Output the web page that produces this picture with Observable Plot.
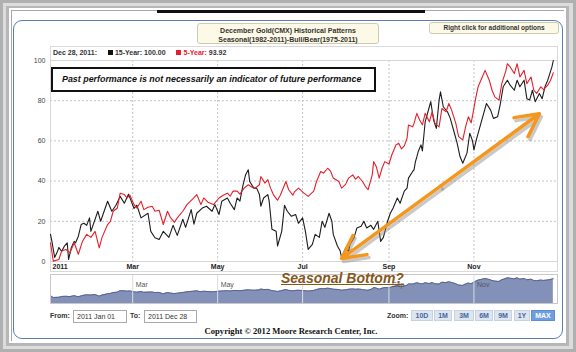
<!DOCTYPE html>
<html><head><meta charset="utf-8">
<script src="https://cdn.jsdelivr.net/npm/d3@7"></script>
<script src="https://cdn.jsdelivr.net/npm/@observablehq/plot@0.6"></script>
<style>
html,body{margin:0;padding:0;}
body{width:576px;height:352px;overflow:hidden;position:relative;background:#b0b0b0;font-family:"Liberation Sans",Arial,sans-serif;}
.a{position:absolute;box-sizing:border-box;}
#f1{left:3px;top:3px;right:3px;bottom:3px;background:#dcdcdc;}
#f2{left:6px;top:6px;right:7px;bottom:6px;background:#b6b6b6;}
#f3{left:9px;top:8px;right:10px;bottom:9px;background:#fff;}
#f4{left:11px;top:10px;right:12px;bottom:11px;border-left:1px solid #a8a8a8;border-top:1px solid #a8a8a8;}
#bar{left:157px;top:10px;width:268px;height:3px;background:#111;}
#panel{left:13px;top:20px;width:550px;height:319px;border:1px solid #5a7db6;border-radius:9px;background:#fff;}
.yb{background:#fcfae6;border:1px solid #cfcbb0;border-radius:3px;color:#333;font-weight:bold;text-align:center;}
#title{left:197px;top:23px;width:182px;height:21px;font-size:7px;line-height:9px;padding-top:1.5px;}
#rc{left:429px;top:22px;width:130px;height:12px;font-size:6.5px;line-height:10px;}
#cframe{left:50px;top:46px;width:508px;height:226px;border:1px solid #dadada;}
#hdr{left:53px;top:46px;height:13px;line-height:13px;font-size:7px;font-weight:bold;color:#333;white-space:nowrap;}
.sq{display:inline-block;width:5px;height:5px;margin:0 2px 0 9px;vertical-align:0px;}
#past{left:51px;top:67px;width:325px;height:25px;border:2.6px solid #111;background:#fff;font-weight:bold;font-style:italic;font-size:8.9px;line-height:20px;padding-left:9px;color:#111;white-space:nowrap;}
#seas{left:281px;top:271px;font-weight:bold;font-style:italic;font-size:14px;line-height:15px;color:#86561a;text-decoration:underline;white-space:nowrap;z-index:5;}
.lbl{font-size:7px;font-weight:bold;color:#333;line-height:12px;}
.inp{height:13px;border:1px solid #a9a9a9;font-size:7px;line-height:11px;padding-left:3px;color:#333;background:#fff;}
.btn{top:310px;height:11px;background:#dde5ef;border:1px solid #c7d2e2;font-size:7px;font-weight:bold;color:#4767a0;text-align:center;line-height:9px;}
#copy{left:150px;width:282px;top:326px;text-align:center;font-family:"Liberation Serif","Times New Roman",serif;font-weight:bold;font-size:8.6px;color:#111;}
</style></head>
<body>
<div class="a" id="f1"></div><div class="a" id="f2"></div><div class="a" id="f3"></div><div class="a" id="f4"></div>
<div class="a" id="bar"></div>
<div class="a" id="panel"></div>
<div class="a yb" id="title">December Gold(CMX) Historical Patterns<br>Seasonal(1982-2011)-Bull/Bear(1975-2011)</div>
<div class="a yb" id="rc">Right click for additional options</div>
<div class="a" id="cframe"></div>
<div class="a" id="hdr">Dec 28, 2011: <span class="sq" style="background:#111"></span>15-Year: 100.00 <span class="sq" style="background:#e3202b"></span><span style="color:#e3202b">5-Year:</span> 93.92</div>
<div id="svgs"></div>
<div class="a" id="past">Past performance is not necessarily an indicator of future performance</div>
<div class="a" id="seas">Seasonal Bottom?</div>
<div class="a lbl" style="left:50px;top:310px;">From:</div>
<div class="a inp" style="left:73px;top:310px;width:54px;">2011 Jan 01</div>
<div class="a lbl" style="left:130px;top:310px;">To:</div>
<div class="a inp" style="left:144px;top:310px;width:53px;">2011 Dec 28</div>
<div class="a lbl" style="left:387px;top:310px;">Zoom:</div>
<div id="btns"></div>
<div class="a" id="copy">Copyright © 2012 Moore Research Center, Inc.</div>
<script>
// ---- data ----
const days15 = [0,1,3,5,6,8,10,12,13,15,17,18,20,22,24,26,28,29,34,36,41,44,47,50,53,56,60,62,65,70,72,75,78,81,85,88,91,95,97,101,103,105,109,112,116,118,121,123,127,129,132,134,136,138,140,142,143,146,148,150,151,153,156,157,159,162,163,166,168,170,173,176,178,181,183,185,188,190,193,195,197,200,202,203,206,208,209,212,214,215,218,220,223,225,227,230,232,235,237,239,242,244,246,249,251,254,256,257,260,261,262,263,264,266,267,269,272,273,275,277,279,280,282,285,287,290,292,294,296,299,301,303,304,306,309,311,313,316,318,321,323,325,328,330,333,335,337,340,342,344,346,348,351,353,355,357,360,361];
const vals15 = [13.5,10,2,5,7,5,7.7,9.3,1,7,10,9.3,12.6,18.4,19,18,21.7,15,25,20,30,25,28,32.4,29,33.5,26.4,28,21.7,24,15,11.8,11,15,12,18,13,21,17,25.8,18.6,24,26.6,27.5,25,28.3,23.4,30,31.6,29,25.8,31.6,30,37.4,43,45.6,39.8,36.5,36.5,33.3,27.5,31.6,33.3,30,16,15,7.7,15,28,25,22.5,23.4,19,21.7,15,6,8.5,13.5,12,20,17,24,20,13.5,7.7,5.2,1.9,6.8,5,8.5,12,16.7,17.5,20,16.7,18,16,20,10,12,20,24,26.6,31.6,29,35,36.5,41.5,44.8,45.6,49.7,52,54.7,58,55,69.5,77,79.5,70.4,66.2,80.3,84.4,77,74.5,71.2,63.8,58.8,52.2,48.9,53.9,63.8,60,55.5,61.3,68.7,73.7,78.6,75.3,71.2,72,78.6,86.9,90.2,87.7,85.2,90.2,86.9,90.2,81,80.3,85.2,79.5,83.6,81,86.9,90.2,96.8,100];
const days5 = [0,2,6,8,11,14,17,20,23,26,29,32,35,37,41,43,45,48,50,53,55,57,60,62,65,67,70,73,75,78,81,84,86,89,91,95,98,102,105,108,110,113,117,121,124,127,129,131,134,136,139,142,145,147,150,151,154,156,158,160,163,165,169,171,174,175,178,182,185,189,191,194,196,199,201,203,207,209,212,214,217,219,221,224,226,228,231,232,234,236,238,240,243,245,248,250,252,254,256,257,260,261,263,265,267,269,272,274,276,279,281,284,286,288,291,293,296,298,300,302,303,305,307,310,312,315,317,319,322,324,327,328,330,333,335,337,340,342,345,347,349,352,354,357,359,361];
const vals5 = [9.3,0.2,1,5.2,6,4.4,9.3,3.6,10.1,13.5,12,15,6.8,12,18.4,20,25,26.6,34,33.3,31.6,33,28.3,26.6,30,25.8,27,27.5,25,25.5,18.4,25,22,19.5,21.7,25,28.3,31,33.3,28.3,31.6,29.5,28.3,31.6,33,34,32.5,35,35,33.5,36.5,38.2,36.8,36.5,38.2,42.3,39,40.7,36.5,33.3,30.5,33,39.8,35.7,33,34.5,36.5,34,32.4,35,39.8,44.8,44,46.4,45,41.5,39.8,36.5,38.5,41.5,43.1,41,42.3,39.8,37.4,35.7,43.1,49.7,47,41.5,46.4,49.7,48.5,53,58,58.8,56,57.5,61.3,67.9,67,68.7,73.7,70.4,68,73.7,69.5,74.5,68.7,67,76.1,74.5,78.6,75.3,68.7,62.1,60.5,67,72,69,72.5,80.3,86.9,91.8,95.1,90.2,85.2,81.9,80.3,88.5,95.1,98.4,96.8,93.5,98.4,91.8,95.1,88.5,91.8,85.2,83.6,86.9,85.5,87.7,90.2,93.92];
const tickDates = ["2011-01-01","2011-03-01","2011-05-01","2011-07-01","2011-09-01","2011-11-01"];
const tickLabels = ["2011","Mar","May","Jul","Sep","Nov"];
const navLabels = ["Mar","May","Sep","Nov"];
const yTicks = [0,20,40,60,80,100];
const arrowEnds = [{date:"2011-07-29", value:1.5},{date:"2011-12-18", value:73.5}];
const zoomButtons = ["10D","1M","3M","6M","9M","1Y","MAX"];

// ---- build ----
const parse = d3.timeParse("%Y-%m-%d");
const start = new Date(2011,0,1), end = new Date(2011,11,31);
const byDay = d => new Date(2011,0,1+d);
const s15 = d3.zip(days15, vals15).map(([d,v]) => ({date:byDay(d), value:v}));
const s5 = d3.zip(days5, vals5).map(([d,v]) => ({date:byDay(d), value:v}));
const ticks = tickDates.map(parse);
const labelOf = new Map(ticks.map((t,i)=>[+t, tickLabels[i]]));
const monthTicks = ticks.slice(1);
const navTicks = monthTicks.filter(t => navLabels.includes(labelOf.get(+t)));
const A = {date:parse(arrowEnds[0].date), value:arrowEnds[0].value};
const B = {date:parse(arrowEnds[1].date), value:arrowEnds[1].value};
const M = {date:new Date((+A.date + +B.date)/2), value:(A.value+B.value)/2};
const arrows = [A,B].map(p => ({x1:M.date, y1:M.value, x2:p.date, y2:p.value}));
const font = "Liberation Sans, Arial, sans-serif";

const main = Plot.plot({
  width:576, height:280,
  marginLeft:50, marginRight:19, marginTop:60, marginBottom:19,
  style:{background:"transparent", fontFamily:font, overflow:"visible"},
  x:{type:"time", domain:[start,end]},
  y:{domain:[0,100]},
  marks:[
    Plot.gridY(yTicks.filter(v=>v>0 && v<100), {stroke:"#c4c4c4", strokeOpacity:1, strokeDasharray:"2,2"}),
    Plot.gridX(monthTicks, {stroke:"#c4c4c4", strokeOpacity:1, strokeDasharray:"2,2"}),
    Plot.frame({stroke:"#d6d6d6"}),
    Plot.axisY(yTicks, {tickSize:0, tickPadding:5, label:null, fontSize:7, fill:"#444"}),
    Plot.axisX(monthTicks, {tickSize:0, tickPadding:3, label:null, fontSize:7, fontWeight:"bold", fill:"#222", tickFormat:d=>labelOf.get(+d)}),
    Plot.axisX([ticks[0]], {tickSize:0, tickPadding:3, label:null, fontSize:7, fontWeight:"bold", fill:"#222", textAnchor:"start", dx:2, tickFormat:d=>labelOf.get(+d)}),
    Plot.line(s15, {x:"date", y:"value", stroke:"#1d1d1d", strokeWidth:1.1}),
    Plot.line(s5, {x:"date", y:"value", stroke:"#e3202b", strokeWidth:1.1}),
    Plot.arrow(arrows, {x1:"x1", y1:"y1", x2:"x2", y2:"y2", stroke:"#888", strokeOpacity:0.45, strokeWidth:3.5, headLength:11, headAngle:55, bend:0, dx:2, dy:3}),
    Plot.arrow(arrows, {x1:"x1", y1:"y1", x2:"x2", y2:"y2", stroke:"#f5961d", strokeWidth:3.5, headLength:11, headAngle:55, bend:0})
  ]
});

const nav = Plot.plot({
  width:576, height:29,
  marginLeft:50, marginRight:19, marginTop:0, marginBottom:0,
  style:{background:"transparent", fontFamily:font, overflow:"visible"},
  x:{type:"time", domain:[start,end], axis:null},
  y:{domain:[-30,115], axis:null},
  marks:[
    Plot.areaY(s5, {x:"date", y1:-30, y2:"value", fill:"#8391b9"}),
    Plot.lineY(s5, {x:"date", y:"value", stroke:"#58648e", strokeWidth:1}),
    Plot.ruleX(monthTicks, {stroke:"#d9dde6"}),
    Plot.text(navTicks, {x:d=>d, text:d=>labelOf.get(+d), frameAnchor:"top", dy:8, dx:3, textAnchor:"start", fontSize:7, fill:"#555"}),
    Plot.frame({stroke:"#c8c8c8"})
  ]
});

const holder = document.getElementById("svgs");
for (const [el, top] of [[main,0],[nav,274]]) {
  el.style.position = "absolute"; el.style.left = "0px"; el.style.top = top + "px";
  holder.appendChild(el);
}

// zoom buttons
const bx = [411,434,454,475,494,514,531], bw = [22,18,20,18,18,16,24];
const bh = document.getElementById("btns");
zoomButtons.forEach((t,i) => {
  const b = document.createElement("div");
  b.className = "a btn"; b.textContent = t;
  b.style.left = bx[i]+"px"; b.style.width = bw[i]+"px";
  if (t === "MAX") { b.style.background = "#6d9fe0"; b.style.color = "#fff"; b.style.borderColor = "#5b8ed4"; }
  bh.appendChild(b);
});
</script>
</body></html>
